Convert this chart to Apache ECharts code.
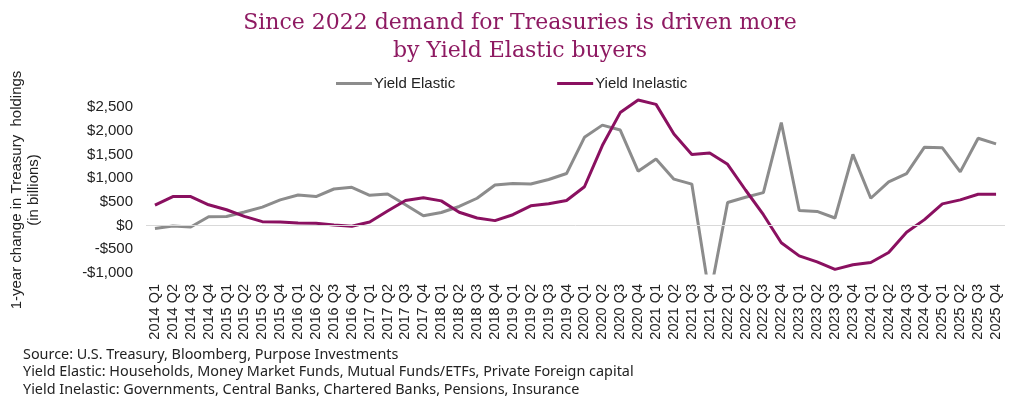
<!DOCTYPE html>
<html>
<head>
<meta charset="utf-8">
<script src="https://cdn.jsdelivr.net/npm/echarts@6/dist/echarts.min.js"></script>
<style>
  html, body { margin: 0; padding: 0; background: #fff; }
  #chart { width: 1024px; height: 412px; }
</style>
</head>
<body>
<div id="chart"></div>
<script>
// 季度分类 2014 Q1 - 2025 Q4
var years = ['2014','2015','2016','2017','2018','2019','2020','2021','2022','2023','2024','2025'];
var quarters = [];
years.forEach(function (y) {
  ['Q1','Q2','Q3','Q4'].forEach(function (q) { quarters.push(y + ' ' + q); });
});

// 数据 (十亿美元)
var elastic = [-60, -10, -30, 187, 190, 285, 389, 542, 646, 611, 771, 806,
  639, 667, 438, 208, 275, 403, 576, 854, 889, 875, 972, 1097,
  1861, 2118, 2014, 1146, 1403, 979, 875, -1500, 486, 597, 694, 2173,
  319, 299, 160, 1500, 576, 923, 1097, 1653, 1639, 1132, 1840, 1722];
var inelastic = [431, 611, 611, 438, 333, 194, 83, 76, 56, 49, 14, -14,
  76, 306, 528, 586, 521, 280, 160, 104, 229, 417, 458, 528,
  819, 1687, 2382, 2646, 2555, 1930, 1500, 1528, 1292, 750, 229, -361,
  -639, -764, -924, -826, -778, -569, -139, 125, 458, 542, 660, 660];

// y轴刻度
var yMin = -1000, yMax = 2500, yStep = 500;

var footNotes = [
  'Source: U.S. Treasury, Bloomberg, Purpose Investments',
  'Yield Elastic: Households, Money Market Funds, Mutual Funds/ETFs, Private Foreign capital',
  'Yield Inelastic: Governments, Central Banks, Chartered Banks, Pensions, Insurance'
];

var grey = '#8c8c8c';
var plum = '#8a1060';

var chart = echarts.init(document.getElementById('chart'));

function money(v) {
  var s = Math.abs(v).toLocaleString('en-US');
  return (v < 0 ? '-$' : '$') + s;
}

var option = {
  animation: false,
  title: {
    text: 'Since 2022 demand for Treasuries is driven more\nby Yield Elastic buyers',
    left: 515,
    top: 4,
    textAlign: 'center',
    textStyle: {
      fontFamily: 'DejaVu Serif',
      fontWeight: 'normal',
      fontSize: 22,
      lineHeight: 28,
      color: '#8e1a62'
    }
  },
  legend: {
    top: 71,
    left: 331,
    itemGap: 102,
    itemWidth: 36,
    itemHeight: 3,
    icon: 'rect',
    textStyle: { fontFamily: 'Liberation Sans', fontSize: 15, color: '#222', padding: [0, 0, 0, -3] },
    data: ['Yield Elastic', 'Yield Inelastic']
  },
  grid: { left: 143, right: 19, top: 107, bottom: 139 },
  xAxis: {
    type: 'category',
    data: quarters,
    axisLine: { show: false, onZero: false },
    axisTick: { show: false },
    axisLabel: {
      rotate: 90,
      interval: 0,
      margin: 11,
      fontFamily: 'Liberation Sans',
      fontSize: 14.5,
      color: '#222'
    }
  },
  yAxis: {
    type: 'value',
    min: yMin,
    max: yMax,
    interval: yStep,
    name: '1-year change in Treasury  holdings\n(in billions)',
    nameLocation: 'middle',
    nameRotate: 90,
    nameGap: 104,
    nameTextStyle: { fontFamily: 'Liberation Sans', fontSize: 15, lineHeight: 17, color: '#222' },
    axisLine: { show: false },
    axisTick: { show: false },
    splitLine: { show: false },
    axisLabel: {
      margin: 13,
      fontFamily: 'Liberation Sans',
      fontSize: 15,
      color: '#222',
      formatter: money
    }
  },
  series: [
    {
      name: 'Yield Elastic',
      type: 'line',
      data: elastic,
      symbol: 'none',
      clip: true,
      lineStyle: { width: 3, color: grey },
      itemStyle: { color: grey },
      markLine: {
        silent: true,
        symbol: 'none',
        label: { show: false },
        lineStyle: { color: '#d9d9d9', width: 1, type: 'solid' },
        data: [{ yAxis: 0 }]
      },
      z: 3
    },
    {
      name: 'Yield Inelastic',
      type: 'line',
      data: inelastic,
      symbol: 'none',
      clip: false,
      lineStyle: { width: 3, color: plum },
      itemStyle: { color: plum },
      z: 4
    }
  ],
  graphic: footNotes.map(function (t, i) {
    return {
      type: 'text',
      left: 23,
      top: 348 + i * 17.3,
      style: { text: t, fontFamily: 'Noto Sans', fontSize: 14.4, fill: '#222' }
    };
  })
};

chart.setOption(option);
</script>
</body>
</html>
